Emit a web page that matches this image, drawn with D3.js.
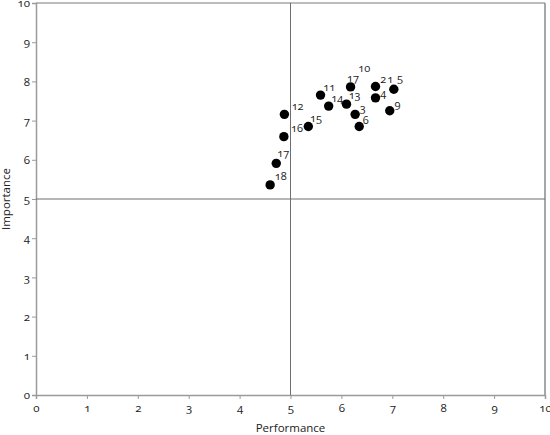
<!DOCTYPE html>
<html>
<head>
<meta charset="utf-8">
<script src="https://cdn.jsdelivr.net/npm/d3@7"></script>
<style>
  body { margin: 0; background: #fff; }
  svg text { font-family: "Open Sans", "Noto Sans", sans-serif; font-variant-numeric: oldstyle-nums; fill: #222; }
</style>
</head>
<body>
<svg id="chart"></svg>
<script>
const width = 550;
const height = 435;

// points: [performance, importance]
const pointPerf = [4.88, 4.87, 4.72, 4.60, 5.35, 5.59, 5.75, 6.18, 6.10, 6.27, 6.35, 6.67, 6.67, 7.03, 6.95];
const pointImp  = [7.16, 6.59, 5.91, 5.36, 6.85, 7.65, 7.37, 7.86, 7.42, 7.16, 6.85, 7.87, 7.58, 7.80, 7.25];

// item labels, placed in data units next to the dots
const labelText = ["10", "1", "5", "2", "4", "9", "6", "3", "13", "14", "11", "17", "12", "15", "16", "17", "18"];
const labelPerf = [6.45, 6.96, 7.15, 6.82, 6.82, 7.10, 6.48, 6.42, 6.26, 5.92, 5.76, 6.23, 5.14, 5.50, 5.13, 4.86, 4.81];
const labelImp  = [8.33, 8.07, 8.09, 8.05, 7.69, 7.41, 7.00, 7.32, 7.65, 7.58, 7.85, 8.09, 7.37, 7.05, 6.81, 6.16, 5.59];

const ticks = [0, 1, 2, 3, 4, 5, 6, 7, 8, 9, 10];
const midline = 5;

const margin = {top: 3, right: 5, bottom: 40, left: 36};

const svg = d3.select("#chart")
    .attr("width", width)
    .attr("height", height);

const x = d3.scaleLinear().domain([0, 10]).range([margin.left, width - margin.right]);
const y = d3.scaleLinear().domain([0, 10]).range([height - margin.bottom, margin.top]);

// frame: top light, right darker
svg.append("line")
    .attr("x1", x(0)).attr("x2", x(10))
    .attr("y1", y(10)).attr("y2", y(10))
    .attr("stroke", "#a6a6a6").attr("stroke-width", 1.5);
svg.append("line")
    .attr("x1", x(10)).attr("x2", x(10))
    .attr("y1", y(10)).attr("y2", y(0))
    .attr("stroke", "#8a8a8a").attr("stroke-width", 1.5);

// axes
const xAxis = svg.append("g")
    .attr("transform", `translate(0,${y(0)})`)
    .call(d3.axisBottom(x).tickValues(ticks).tickSize(4).tickPadding(5).tickFormat(d3.format("d")));
const yAxis = svg.append("g")
    .attr("transform", `translate(${x(0)},0)`)
    .call(d3.axisLeft(y).tickValues(ticks).tickSize(4).tickPadding(2).tickFormat(d3.format("d")));

[xAxis, yAxis].forEach(g => {
    g.select(".domain").attr("stroke", "#9a9a9a").attr("stroke-width", 1.5);
    g.selectAll(".tick line").attr("stroke", "#9a9a9a");
    g.selectAll(".tick text").attr("font-size", 11.5).attr("fill", "#222");
});

// quadrant lines
svg.append("line")
    .attr("x1", x(midline)).attr("x2", x(midline))
    .attr("y1", y(10)).attr("y2", y(0))
    .attr("stroke", "#6e6e6e");
svg.append("line")
    .attr("x1", x(0)).attr("x2", x(10))
    .attr("y1", y(midline)).attr("y2", y(midline))
    .attr("stroke", "#6e6e6e");

// axis titles
svg.append("text")
    .attr("x", x(5))
    .attr("y", 432)
    .attr("text-anchor", "middle")
    .attr("font-size", 11.5)
    .text("Performance");

svg.append("text")
    .attr("transform", `translate(10,${y(5)}) rotate(-90)`)
    .attr("text-anchor", "middle")
    .attr("font-size", 11.5)
    .text("Importance");

// dots
svg.selectAll(".dot")
    .data(d3.range(pointPerf.length))
    .enter().append("circle")
    .attr("class", "dot")
    .attr("cx", i => x(pointPerf[i]))
    .attr("cy", i => y(pointImp[i]))
    .attr("r", 4.7)
    .attr("fill", "#000");

// labels
svg.selectAll(".lbl")
    .data(d3.range(labelText.length))
    .enter().append("text")
    .attr("class", "lbl")
    .attr("x", i => x(labelPerf[i]))
    .attr("y", i => y(labelImp[i]))
    .attr("dy", "0.35em")
    .attr("text-anchor", "middle")
    .attr("font-size", 11)
    .text(i => labelText[i]);
</script>
</body>
</html>
